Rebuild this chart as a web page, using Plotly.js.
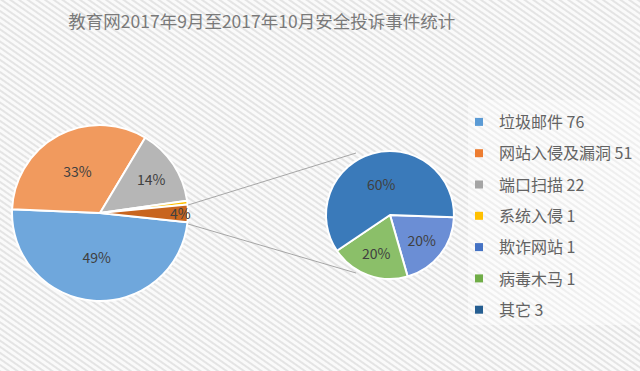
<!DOCTYPE html>
<html>
<head>
<meta charset="utf-8">
<script src="https://cdn.plot.ly/plotly-3.0.1.min.js"></script>
<style>html,body{margin:0;padding:0;background:#fff;}#chart{width:640px;height:371px;}</style>
</head>
<body>
<div id="chart"></div>
<script>
// ---- data ----
const chartTitle = '教育网2017年9月至2017年10月安全投诉事件统计';
const mainLabels = ['垃圾邮件', '网站入侵及漏洞', '端口扫描', '系统入侵', '其他'];
const subLabels = ['欺诈网站', '病毒木马', '其它'];
const subValues = [1, 1, 3];
const mainValuesKnown = [76, 51, 22, 1];
const mainValues = mainValuesKnown.concat([subValues.reduce((a, b) => a + b, 0)]);
const mainText = ['49%', '33%', '14%', '', '4%'];
const subText = ['20%', '20%', '60%'];
const legendLabels = ['垃圾邮件', '网站入侵及漏洞', '端口扫描', '系统入侵', '欺诈网站', '病毒木马', '其它'];
const legendCounts = [76, 51, 22, 1, 1, 1, 3];

// ---- styles ----
const mainColors = ['#6fa7dc', '#f19a5e', '#b6b6b6', '#ffc000', '#c8651f'];
const subColors = ['#6b8ed5', '#8bbf69', '#3a7aba'];
const legendColors = ['#5b9bd5', '#ed7d31', '#a5a5a5', '#ffc000', '#4472c4', '#70ad47', '#255e91'];
const FONT = '"Noto Sans CJK SC", "Noto Sans", sans-serif';

const bgSvg = "<svg xmlns='http://www.w3.org/2000/svg' width='640' height='371'>" +
  "<defs><pattern id='p' width='5' height='5' patternUnits='userSpaceOnUse' patternTransform='rotate(-55)'>" +
  "<rect width='5' height='5' fill='#fafafa'/><rect width='2' height='5' fill='#e4e4e4'/></pattern></defs>" +
  "<rect width='100%' height='100%' fill='url(#p)'/></svg>";
const bgUri = 'data:image/svg+xml;charset=utf-8,' + encodeURIComponent(bgSvg);

const pieCommon = {
  type: 'pie', sort: false, direction: 'clockwise', showlegend: false,
  textinfo: 'text', textposition: 'inside', insidetextorientation: 'horizontal',
  textfont: {size: 14, color: '#404040', family: FONT},
  hoverinfo: 'label+value+percent'
};

const traces = [
  Object.assign({}, pieCommon, {
    labels: mainLabels, values: mainValues, text: mainText,
    rotation: 96,
    marker: {colors: mainColors, line: {color: '#ffffff', width: 2}},
    domain: {x: [12/640, 188/640], y: [1 - 301/371, 1 - 125/371]}
  }),
  Object.assign({}, pieCommon, {
    labels: subLabels, values: subValues, text: subText,
    rotation: 92,
    marker: {colors: subColors, line: {color: '#ffffff', width: 2}},
    domain: {x: [326/640, 454/640], y: [1 - 279/371, 1 - 151/371]}
  })
];

legendLabels.forEach((lab, i) => {
  traces.push({
    type: 'scatter', mode: 'markers', x: [null], y: [null],
    name: lab + ' ' + legendCounts[i],
    legendgroup: 'g' + i,
    marker: {symbol: 'square', size: 8, color: legendColors[i]},
    hoverinfo: 'skip'
  });
});

const layout = {
  width: 640, height: 371,
  margin: {l: 0, r: 0, t: 0, b: 0},
  paper_bgcolor: '#ffffff', plot_bgcolor: 'rgba(0,0,0,0)',
  font: {family: FONT, color: '#595959'},
  title: {
    text: chartTitle, x: 0.409, xanchor: 'center', xref: 'paper',
    y: 1 - 22/371, yanchor: 'middle', yref: 'container',
    font: {size: 17.5, color: '#7a7a7a', family: FONT}
  },
  xaxis: {visible: false, domain: [0, 0.01]},
  yaxis: {visible: false, domain: [0, 0.01]},
  showlegend: true,
  legend: {
    x: 459/640, xanchor: 'left', y: 1 - 105/371, yanchor: 'top',
    bgcolor: 'rgba(0,0,0,0)', borderwidth: 0,
    font: {size: 16, color: '#636363', family: FONT},
    traceorder: 'grouped', tracegroupgap: 7.5,
    itemclick: false, itemdoubleclick: false
  },
  uniformtext: {mode: 'show', minsize: 14},
  images: [{
    source: bgUri, xref: 'paper', yref: 'paper', x: 0, y: 1,
    sizex: 1, sizey: 1, sizing: 'stretch', xanchor: 'left', yanchor: 'top', layer: 'below'
  }],
  shapes: [
    {type: 'rect', xref: 'paper', yref: 'paper', x0: 468/640, x1: 1, y0: 1 - 325/371, y1: 1 - 100/371,
      fillcolor: 'rgba(255,255,255,0.4)', line: {width: 0}, layer: 'below'},
    {type: 'line', xref: 'paper', yref: 'paper', x0: 188/640, y0: 1 - 205/371, x1: 356/640, y1: 1 - 153/371,
      line: {color: '#a6a6a6', width: 1}},
    {type: 'line', xref: 'paper', yref: 'paper', x0: 188/640, y0: 1 - 224/371, x1: 356/640, y1: 1 - 273/371,
      line: {color: '#a6a6a6', width: 1}}
  ]
};

Plotly.newPlot('chart', traces, layout, {displayModeBar: false, staticPlot: true});
</script>
</body>
</html>
